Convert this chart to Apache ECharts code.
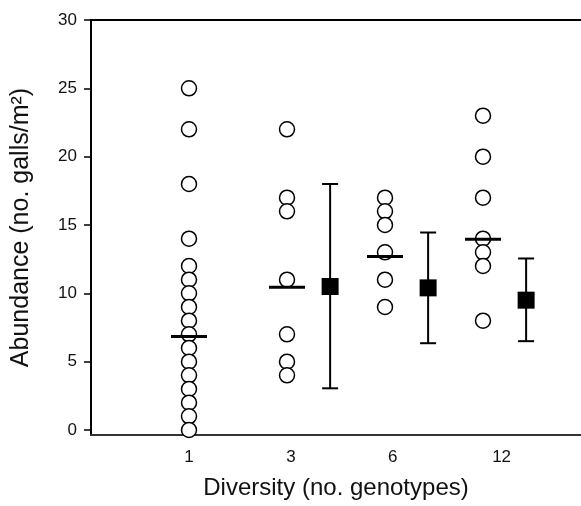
<!DOCTYPE html>
<html>
<head>
<meta charset="utf-8">
<script src="https://cdn.jsdelivr.net/npm/echarts@6/dist/echarts.min.js"></script>
<style>
html,body{margin:0;padding:0;background:#fff;}
#chart{width:581px;height:506px;}
</style>
</head>
<body>
<div id="chart"></div>
<script>
// ---- data ----
const categories = ['1', '3', '6', '12'];
const group1 = [25, 22, 18, 14, 12, 11, 10, 9, 8, 7, 6, 5, 4, 3, 2, 1, 0];
const group3 = [22, 17, 16, 11, 7, 5, 4];
const group6 = [17, 16, 15, 13, 11, 9];
const group12 = [23, 20, 17, 14, 13, 12, 8];
const groupLine = [6.85, 10.45, 12.7, 13.95];          // horizontal bar per group
const squareMean = [10.5, 10.4, 9.5];                  // for groups 3, 6, 12
const squareLow = [3.05, 6.35, 6.5];
const squareHigh = [18.0, 14.45, 12.55];
const yTicks = [0, 5, 10, 15, 20, 25, 30];

// ---- layout (positions on the x value axis) ----
const groupPos = [1, 2, 3, 4];
const squareOffset = 0.44;
const labelPos = [1.0, 2.04, 3.08, 4.19];

const groups = [group1, group3, group6, group12];
const circleData = [];
groups.forEach((g, i) => g.forEach(v => circleData.push([groupPos[i], v])));
const lineData = groupLine.map((v, i) => [groupPos[i], v]);
const sqData = squareMean.map((v, i) => [groupPos[i + 1] + squareOffset, v]);
const errData = squareMean.map((v, i) => [groupPos[i + 1] + squareOffset, squareLow[i], squareHigh[i]]);

const font = "'Liberation Sans', Arial, Helvetica, sans-serif";
const chart = echarts.init(document.getElementById('chart'), null, {renderer: 'canvas'});
chart.setOption({
  animation: false,
  backgroundColor: '#fff',
  grid: {left: 91, right: -5, top: 20, bottom: 71, containLabel: false},
  xAxis: [{
    type: 'value', min: 0, max: 5, position: 'bottom',
    axisLine: {show: true, onZero: false, lineStyle: {color: '#333', width: 2}},
    axisTick: {show: false},
    splitLine: {show: false},
    axisLabel: {
      customValues: labelPos, margin: 14,
      fontFamily: font, fontSize: 17, color: '#111',
      formatter: v => {
        let best = 0;
        labelPos.forEach((p, i) => { if (Math.abs(p - v) < Math.abs(labelPos[best] - v)) best = i; });
        return categories[best];
      }
    },
    name: 'Diversity (no. genotypes)', nameLocation: 'middle', nameGap: 41,
    nameTextStyle: {fontFamily: font, fontSize: 24, color: '#111'}
  }, {
    type: 'value', min: 0, max: 5, position: 'top',
    axisLine: {show: true, onZero: false, lineStyle: {color: '#000', width: 2}},
    axisTick: {show: false}, axisLabel: {show: false}, splitLine: {show: false}
  }],
  yAxis: {
    type: 'value', min: -0.366, max: 30,
    axisLine: {show: true, onZero: false, lineStyle: {color: '#000', width: 2}},
    axisTick: {show: true, customValues: yTicks, length: 7, lineStyle: {color: '#000', width: 1.5}},
    axisLabel: {customValues: yTicks, margin: 14, fontFamily: font, fontSize: 17, color: '#111'},
    splitLine: {show: false},
    name: 'Abundance (no. galls/m²)', nameLocation: 'middle', nameGap: 57,
    nameTextStyle: {fontFamily: font, fontSize: 25, color: '#111'}
  },
  series: [{
    type: 'scatter', data: circleData, symbol: 'circle', symbolSize: 15,
    itemStyle: {color: '#fff', borderColor: '#000', borderWidth: 1.5, opacity: 1},
    z: 2
  }, {
    type: 'scatter', data: lineData, symbol: 'rect', symbolSize: [36, 3],
    itemStyle: {color: '#000', opacity: 1}, z: 3
  }, {
    type: 'custom', data: errData, z: 4,
    renderItem: (params, api) => {
      const x = api.value(0);
      const lo = api.coord([x, api.value(1)]);
      const hi = api.coord([x, api.value(2)]);
      const hw = 8;
      const st = {stroke: '#000', lineWidth: 2};
      return {type: 'group', children: [
        {type: 'line', shape: {x1: lo[0], y1: lo[1], x2: hi[0], y2: hi[1]}, style: st},
        {type: 'line', shape: {x1: lo[0] - hw, y1: lo[1], x2: lo[0] + hw, y2: lo[1]}, style: st},
        {type: 'line', shape: {x1: hi[0] - hw, y1: hi[1], x2: hi[0] + hw, y2: hi[1]}, style: st}
      ]};
    }
  }, {
    type: 'scatter', data: sqData, symbol: 'rect', symbolSize: 17,
    itemStyle: {color: '#000', opacity: 1}, z: 5
  }]
});
</script>
</body>
</html>
